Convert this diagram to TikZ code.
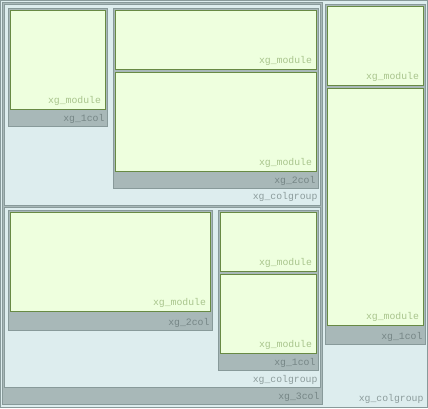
\documentclass[tikz,border=0pt]{standalone}
\usepackage{fontspec}
\setmonofont{Liberation Mono}
\definecolor{bgblue}{RGB}{221,237,238}
\definecolor{modfill}{RGB}{238,255,222}
\definecolor{modline}{RGB}{104,138,68}
\definecolor{grayline}{RGB}{136,154,154}
\definecolor{bandfill}{RGB}{168,184,184}
\definecolor{modtext}{RGB}{168,196,140}
\definecolor{bandtext}{RGB}{118,134,134}
\definecolor{grptext}{RGB}{140,156,156}
\tikzset{
  boxbase/.style={draw, line width=1pt, anchor=north west, inner sep=0pt, outer sep=0pt},
  grpbox/.style={boxbase, draw=grayline, fill=bgblue},
  colbox/.style={boxbase, draw=grayline, fill=bandfill},
  modbox/.style={boxbase, draw=modline, fill=modfill},
  lbl/.style={anchor=base east, inner sep=0pt, outer sep=0pt, font=\fontsize{9.8pt}{10pt}\ttfamily},
  modlbl/.style={lbl, text=modtext},
  collbl/.style={lbl, text=bandtext},
  grplbl/.style={lbl, text=grptext},
}
\begin{document}
\begin{tikzpicture}[x=1pt, y=-1pt]
\useasboundingbox (0,0) rectangle (428,408);
% outer colgroup
\node[grpbox, minimum width=427pt, minimum height=407pt] (outer) at (0.5,0.5) {};
% 3col
\node[colbox, minimum width=320pt, minimum height=402pt] (c3) at (2.5,2.5) {};
% top colgroup
\node[grpbox, minimum width=316pt, minimum height=201pt] (g1) at (4.5,4.5) {};
\node[colbox, minimum width=99pt, minimum height=118pt] (c1a) at (8.5,8.5) {};
\node[modbox, minimum width=95pt, minimum height=99pt] (ma) at (10.5,10.5) {};
\node[colbox, minimum width=205pt, minimum height=180pt] (c2a) at (113.5,8.5) {};
\node[modbox, minimum width=201pt, minimum height=59pt] (ma1) at (115.5,10.5) {};
\node[modbox, minimum width=201pt, minimum height=99pt] (ma2) at (115.5,72.5) {};
% bottom colgroup
\node[grpbox, minimum width=316pt, minimum height=180pt] (g2) at (4.5,207.5) {};
\node[colbox, minimum width=204pt, minimum height=120pt] (c2b) at (8.5,210.5) {};
\node[modbox, minimum width=200pt, minimum height=99pt] (mb) at (10.5,212.5) {};
\node[colbox, minimum width=100pt, minimum height=160pt] (c1b) at (218.5,210.5) {};
\node[modbox, minimum width=96pt, minimum height=59pt] (mb1) at (220.5,212.5) {};
\node[modbox, minimum width=96pt, minimum height=79pt] (mb2) at (220.5,274.5) {};
% right 1col
\node[colbox, minimum width=100pt, minimum height=340pt] (c1r) at (325.5,4.5) {};
\node[modbox, minimum width=96pt, minimum height=79pt] (mr1) at (327.5,6.5) {};
\node[modbox, minimum width=96pt, minimum height=237pt] (mr2) at (327.5,88.5) {};
% module labels
\foreach \m in {ma,ma1,ma2,mb,mb1,mb2,mr1,mr2}{
  \node[modlbl] (t\m) at ([xshift=-4.5pt,yshift=6pt]\m.south east) {xg\_module};
}
% col labels
\node[collbl] (tc1a) at ([xshift=-3pt,yshift=5.5pt]c1a.south east) {xg\_1col};
\node[collbl] (tc2a) at ([xshift=-3pt,yshift=5.5pt]c2a.south east) {xg\_2col};
\node[collbl] (tc2b) at ([xshift=-3pt,yshift=5.5pt]c2b.south east) {xg\_2col};
\node[collbl] (tc1b) at ([xshift=-3pt,yshift=5.5pt]c1b.south east) {xg\_1col};
\node[collbl] (tc1r) at ([xshift=-3pt,yshift=5.5pt]c1r.south east) {xg\_1col};
\node[collbl] (tc3) at ([xshift=-3pt,yshift=5.5pt]c3.south east) {xg\_3col};
% colgroup labels
\node[grplbl] (tg1) at ([xshift=-3pt,yshift=6pt]g1.south east) {xg\_colgroup};
\node[grplbl] (tg2) at ([xshift=-3pt,yshift=5.5pt]g2.south east) {xg\_colgroup};
\node[grplbl] (tout) at ([xshift=-4pt,yshift=6.5pt]outer.south east) {xg\_colgroup};
\end{tikzpicture}
\end{document}
